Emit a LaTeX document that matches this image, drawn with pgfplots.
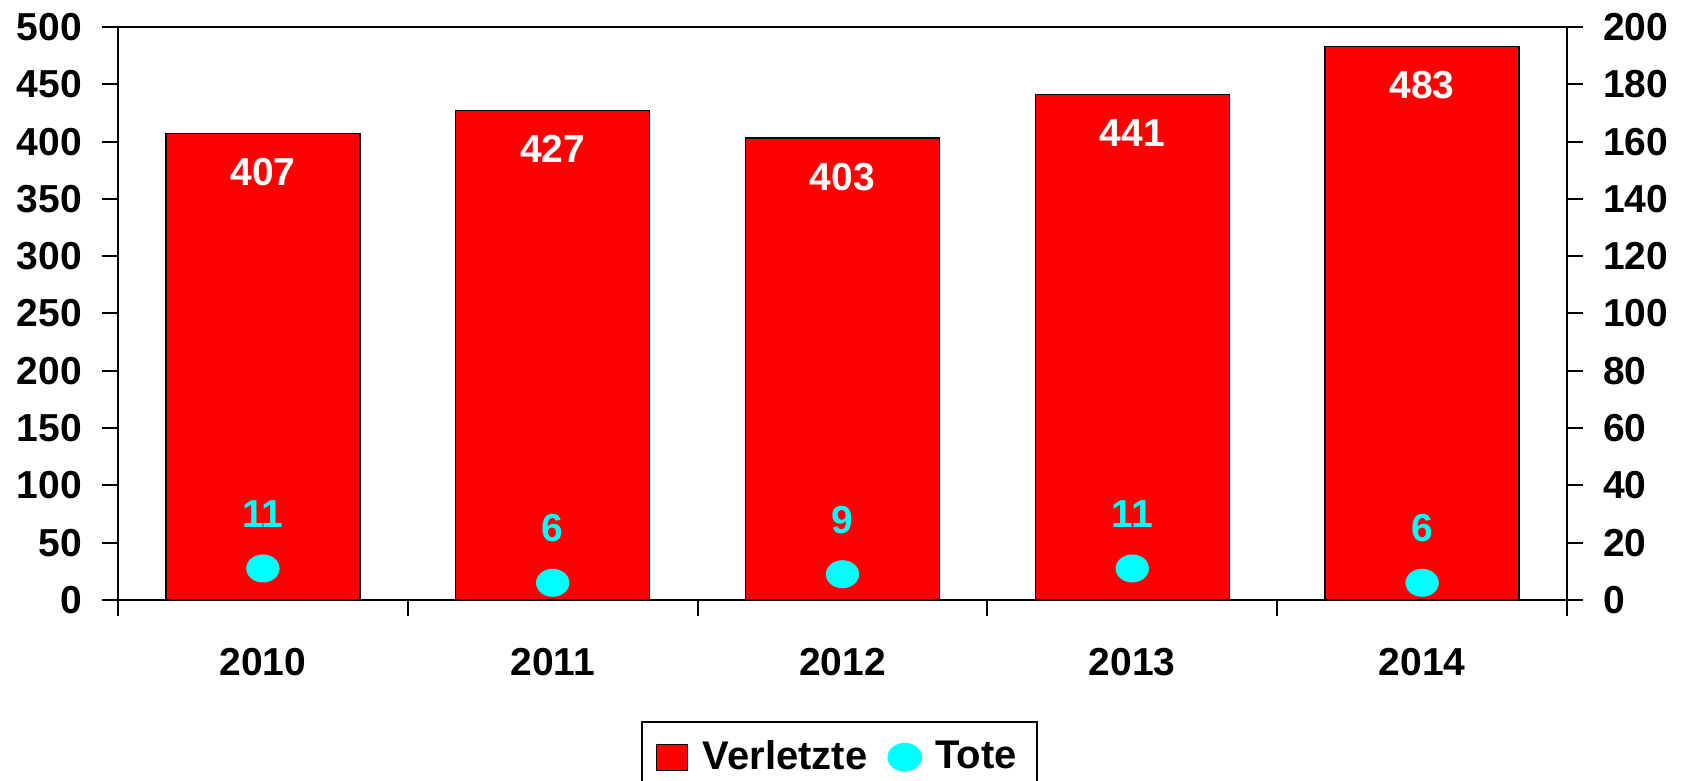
\documentclass[border=0pt]{standalone}
\usepackage{pgfplots}
\pgfplotsset{compat=1.18}
\usepackage{fontspec}
\setmainfont{Liberation Sans}
\definecolor{barred}{RGB}{255,0,0}
\definecolor{dotcyan}{RGB}{0,255,255}
\begin{document}
\begin{tikzpicture}
\pgfplotsset{
  common/.style={
    scale only axis, width=434.7pt, height=171.9pt,
    xmin=-0.5, xmax=4.5,
    axis line style={line width=0.6pt},
    tick style={line width=0.6pt, black},
    tick align=outside,
    font=\fontsize{11.7}{14}\selectfont\bfseries,
    /pgf/number format/assume math mode=true,
  },
}
\begin{axis}[common,
  ymin=0, ymax=500, ytick={0,50,...,500},
  ytick pos=left, major tick length=4.8pt,
  yticklabel style={xshift=-2.5pt},
  xtick={-0.5,0.5,1.5,2.5,3.5,4.5}, xticklabels={},
  xtick pos=bottom,
  extra x ticks={0,1,2,3,4}, extra x tick labels={2010,2011,2012,2013,2014},
  extra x tick style={major tick length=0pt, xticklabel style={yshift=-11pt}},
  bar width=58.2pt,
  nodes near coords,
  every node near coord/.append style={anchor=north, yshift=-4pt, text=white, font=\fontsize{11.7}{14}\selectfont\bfseries},
]
\addplot[ybar, fill=barred, draw=black, line width=0.4pt] coordinates {(0,407) (1,427) (2,403) (3,441) (4,483)};
\end{axis}
\begin{axis}[common,
  axis x line=none, axis y line*=right,
  ymin=0, ymax=200, ytick={0,20,...,200},
  major tick length=4.8pt,
  yticklabel style={xshift=2.5pt},
  legend columns=2,
  legend style={at={(0.498,-0.211)}, anchor=north, draw=black, line width=0.6pt,
    font=\fontsize{12}{14}\selectfont\bfseries, inner xsep=4pt, inner ysep=3.5pt,
    /tikz/every even column/.append style={column sep=4pt}},
]
\addlegendimage{legend image code/.code={\draw[fill=barred, draw=black, line width=0.4pt] (0pt,-3.9pt) rectangle (9.3pt,3.9pt);\path (11.7pt,0pt);}}
\addlegendentry{Verletzte}
\addplot[only marks, mark=*, mark size=4pt, mark options={xscale=1.2, fill=dotcyan, draw=dotcyan},
  nodes near coords,
  every node near coord/.append style={anchor=south, yshift=8.7pt, text=dotcyan, font=\fontsize{11.7}{14}\selectfont\bfseries},
  legend image code/.code={\fill[dotcyan] (4.9pt,0pt) ellipse [x radius=4.9pt, y radius=4pt];\path (11.8pt,0pt);}]
  coordinates {(0,11) (1,6) (2,9) (3,11) (4,6)};
\addlegendentry{Tote}
\end{axis}
\pgfresetboundingbox
\path[use as bounding box] (-35.4pt,-54.3pt) rectangle (468.9pt,180pt);
\end{tikzpicture}
\end{document}
